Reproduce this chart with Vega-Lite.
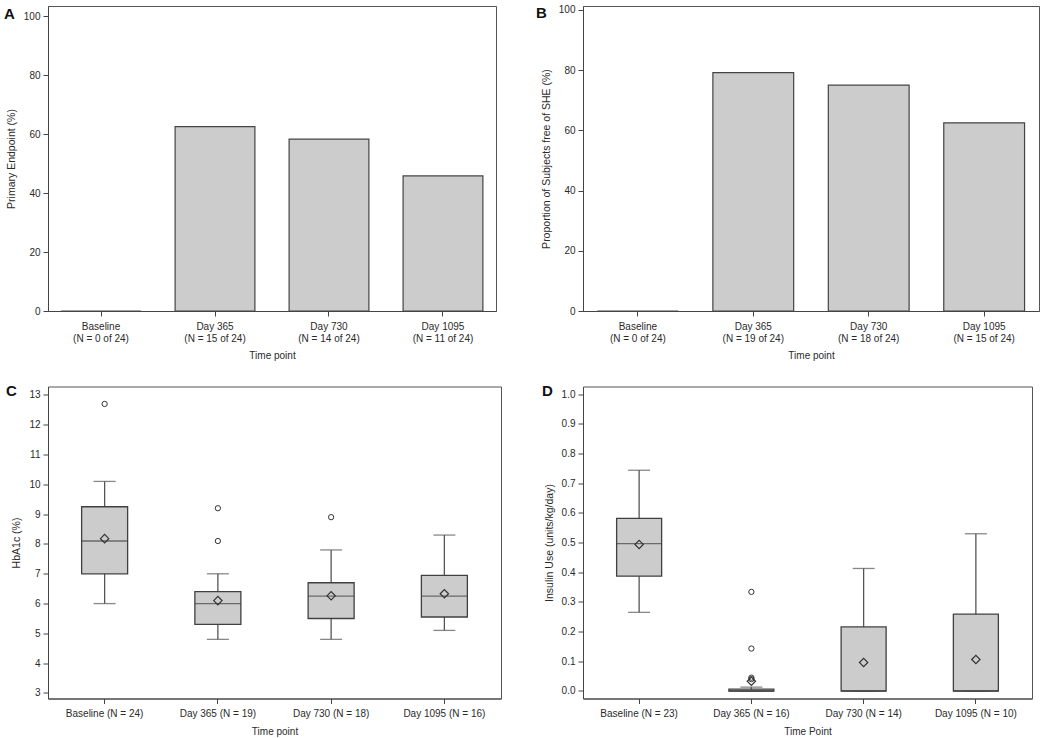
{
  "$schema": "https://vega.github.io/schema/vega-lite/v6.json",
  "padding": {"left": 3, "top": 4, "right": 0, "bottom": 0},
  "autosize": {"type": "pad"},
  "background": "white",
  "config": {
    "font": "Liberation Sans",
    "view": {"stroke": "#555555", "strokeWidth": 1},
    "axis": {
      "labelFont": "Liberation Sans", "titleFont": "Liberation Sans",
      "labelFontSize": 10, "titleFontSize": 10, "titleFontWeight": "normal",
      "labelColor": "#2a2a2a", "titleColor": "#2a2a2a",
      "tickColor": "#444444", "domainColor": "#444444", "tickSize": 5,
      "grid": false, "labelPadding": 3, "titlePadding": 7, "labelOverlap": false
    },
    "axisY": {"titleFontSize": 10.5},
    "title": {"fontSize": 15, "fontWeight": "bold", "anchor": "start", "frame": "group", "offset": 0, "baseline": "alphabetic", "color": "#111111", "font": "Liberation Sans"}
  },
  "datasets": {
    "barsA": [
      {"tp": "Baseline|(N = 0 of 24)", "v": 0},
      {"tp": "Day 365|(N = 15 of 24)", "v": 62.5},
      {"tp": "Day 730|(N = 14 of 24)", "v": 58.3},
      {"tp": "Day 1095|(N = 11 of 24)", "v": 45.8}
    ],
    "barsB": [
      {"tp": "Baseline|(N = 0 of 24)", "v": 0},
      {"tp": "Day 365|(N = 19 of 24)", "v": 79.2},
      {"tp": "Day 730|(N = 18 of 24)", "v": 75.0},
      {"tp": "Day 1095|(N = 15 of 24)", "v": 62.5}
    ],
    "boxC": [
      {"tp": "Baseline (N = 24)", "lo": 6.0, "q1": 7.0, "med": 8.1, "q3": 9.25, "hi": 10.1, "mean": 8.18},
      {"tp": "Day 365 (N = 19)", "lo": 4.8, "q1": 5.3, "med": 6.0, "q3": 6.4, "hi": 7.0, "mean": 6.1},
      {"tp": "Day 730 (N = 18)", "lo": 4.8, "q1": 5.5, "med": 6.25, "q3": 6.7, "hi": 7.8, "mean": 6.26},
      {"tp": "Day 1095 (N = 16)", "lo": 5.1, "q1": 5.55, "med": 6.25, "q3": 6.95, "hi": 8.3, "mean": 6.33}
    ],
    "outC": [
      {"tp": "Baseline (N = 24)", "v": 12.7},
      {"tp": "Day 365 (N = 19)", "v": 9.2},
      {"tp": "Day 365 (N = 19)", "v": 8.1},
      {"tp": "Day 730 (N = 18)", "v": 8.9}
    ],
    "boxD": [
      {"tp": "Baseline (N = 23)", "lo": 0.265, "q1": 0.387, "med": 0.497, "q3": 0.582, "hi": 0.744, "mean": 0.494},
      {"tp": "Day 365 (N = 16)", "lo": 0, "q1": 0, "med": 0, "q3": 0.006, "hi": 0.013, "mean": 0.033},
      {"tp": "Day 730 (N = 14)", "lo": 0, "q1": 0, "med": 0, "q3": 0.216, "hi": 0.413, "mean": 0.096},
      {"tp": "Day 1095 (N = 10)", "lo": 0, "q1": 0, "med": 0, "q3": 0.259, "hi": 0.530, "mean": 0.106}
    ],
    "outD": [
      {"tp": "Day 365 (N = 16)", "v": 0.334},
      {"tp": "Day 365 (N = 16)", "v": 0.143},
      {"tp": "Day 365 (N = 16)", "v": 0.045},
      {"tp": "Day 365 (N = 16)", "v": 0.040}
    ]
  },
  "bounds": "flush",
  "align": "each",
  "columns": 2,
  "spacing": {"row": 75.5, "column": 82},
  "concat": [
    {
      "title": {"text": "A", "dx": -44, "dy": 20},
      "width": 448, "height": 305,
      "data": {"name": "barsA"},
      "mark": {"type": "bar", "fill": "#cccccc", "stroke": "#444444", "strokeWidth": 1.2},
      "encoding": {
        "x": {"field": "tp", "type": "nominal", "sort": null,
              "scale": {"paddingInner": 0.3, "paddingOuter": 0.115},
              "axis": {"title": "Time point", "labelAngle": 0, "labelExpr": "split(datum.label, '|')", "labelLineHeight": 12, "labelPadding": 5, "titlePadding": 7}},
        "y": {"field": "v", "type": "quantitative",
              "scale": {"domain": [0, 103.4], "nice": false},
              "axis": {"title": "Primary Endpoint (%)", "values": [0, 20, 40, 60, 80, 100], "labelOverlap": false}}
      }
    },
    {
      "title": {"text": "B", "dx": -47, "dy": 20},
      "width": 456, "height": 305,
      "data": {"name": "barsB"},
      "mark": {"type": "bar", "fill": "#cccccc", "stroke": "#444444", "strokeWidth": 1.2},
      "encoding": {
        "x": {"field": "tp", "type": "nominal", "sort": null,
              "scale": {"paddingInner": 0.3, "paddingOuter": 0.125},
              "axis": {"title": "Time point", "labelAngle": 0, "labelExpr": "split(datum.label, '|')", "labelLineHeight": 12, "labelPadding": 5, "titlePadding": 7}},
        "y": {"field": "v", "type": "quantitative",
              "scale": {"domain": [0, 101.3], "nice": false},
              "axis": {"title": "Proportion of Subjects free of SHE (%)", "values": [0, 20, 40, 60, 80, 100], "labelOverlap": false}}
      }
    },
    {
      "title": {"text": "C", "dx": -42, "dy": 16},
      "width": 453, "height": 312,
      "encoding": {
        "x": {"field": "tp", "type": "nominal",
              "scale": {"domain": ["Baseline (N = 24)", "Day 365 (N = 19)", "Day 730 (N = 18)", "Day 1095 (N = 16)"], "paddingInner": 0, "paddingOuter": 0},
              "axis": {"title": "Time point", "labelAngle": 0, "labelPadding": 5, "titlePadding": 8}},
        "y": {"type": "quantitative", "scale": {"domain": [2.815, 13.285], "nice": false, "zero": false},
              "axis": {"title": "HbA1c (%)", "values": [3, 4, 5, 6, 7, 8, 9, 10, 11, 12, 13], "labelOverlap": false}}
      },
      "layer": [
        {
          "data": {"name": "boxC"},
          "mark": {"type": "rule", "color": "#555555", "strokeWidth": 1.3},
          "encoding": {"y": {"field": "lo"}, "y2": {"field": "hi"}}
        },
        {
          "data": {"name": "boxC"},
          "mark": {"type": "tick", "color": "#555555", "size": 22, "thickness": 1.3},
          "encoding": {"y": {"field": "lo"}}
        },
        {
          "data": {"name": "boxC"},
          "mark": {"type": "tick", "color": "#555555", "size": 22, "thickness": 1.3},
          "encoding": {"y": {"field": "hi"}}
        },
        {
          "data": {"name": "boxC"},
          "mark": {"type": "bar", "size": 46, "fill": "#cccccc", "stroke": "#404040", "strokeWidth": 1.3},
          "encoding": {"y": {"field": "q1"}, "y2": {"field": "q3"}}
        },
        {
          "data": {"name": "boxC"},
          "mark": {"type": "tick", "color": "#404040", "size": 46, "thickness": 1.3},
          "encoding": {"y": {"field": "med"}}
        },
        {
          "data": {"name": "boxC"},
          "mark": {"type": "point", "shape": "diamond", "filled": false, "size": 70, "stroke": "#333333", "strokeWidth": 1.2, "opacity": 1},
          "encoding": {"y": {"field": "mean"}}
        },
        {
          "data": {"name": "outC"},
          "mark": {"type": "point", "shape": "circle", "filled": false, "size": 28, "stroke": "#333333", "strokeWidth": 1, "opacity": 1},
          "encoding": {"y": {"field": "v"}}
        }
      ]
    },
    {
      "title": {"text": "D", "dx": -41, "dy": 16},
      "width": 449, "height": 312,
      "encoding": {
        "x": {"field": "tp", "type": "nominal",
              "scale": {"domain": ["Baseline (N = 23)", "Day 365 (N = 16)", "Day 730 (N = 14)", "Day 1095 (N = 10)"], "paddingInner": 0, "paddingOuter": 0},
              "axis": {"title": "Time Point", "labelAngle": 0, "labelPadding": 5, "titlePadding": 8}},
        "y": {"type": "quantitative", "scale": {"domain": [-0.0253, 1.0263], "nice": false, "zero": false},
              "axis": {"title": "Insulin Use (units/kg/day)", "format": ".1f", "values": [0, 0.1, 0.2, 0.3, 0.4, 0.5, 0.6, 0.7, 0.8, 0.9, 1.0], "labelOverlap": false}}
      },
      "layer": [
        {
          "data": {"name": "boxD"},
          "mark": {"type": "rule", "color": "#555555", "strokeWidth": 1.3},
          "encoding": {"y": {"field": "lo"}, "y2": {"field": "hi"}}
        },
        {
          "data": {"name": "boxD"},
          "mark": {"type": "tick", "color": "#555555", "size": 22, "thickness": 1.3},
          "encoding": {"y": {"field": "lo"}}
        },
        {
          "data": {"name": "boxD"},
          "mark": {"type": "tick", "color": "#555555", "size": 22, "thickness": 1.3},
          "encoding": {"y": {"field": "hi"}}
        },
        {
          "data": {"name": "boxD"},
          "mark": {"type": "bar", "size": 45, "fill": "#cccccc", "stroke": "#404040", "strokeWidth": 1.3},
          "encoding": {"y": {"field": "q1"}, "y2": {"field": "q3"}}
        },
        {
          "data": {"name": "boxD"},
          "mark": {"type": "tick", "color": "#404040", "size": 45, "thickness": 1.3},
          "encoding": {"y": {"field": "med"}}
        },
        {
          "data": {"name": "boxD"},
          "mark": {"type": "point", "shape": "diamond", "filled": false, "size": 70, "stroke": "#333333", "strokeWidth": 1.2, "opacity": 1},
          "encoding": {"y": {"field": "mean"}}
        },
        {
          "data": {"name": "outD"},
          "mark": {"type": "point", "shape": "circle", "filled": false, "size": 28, "stroke": "#333333", "strokeWidth": 1, "opacity": 1},
          "encoding": {"y": {"field": "v"}}
        }
      ]
    }
  ]
}
